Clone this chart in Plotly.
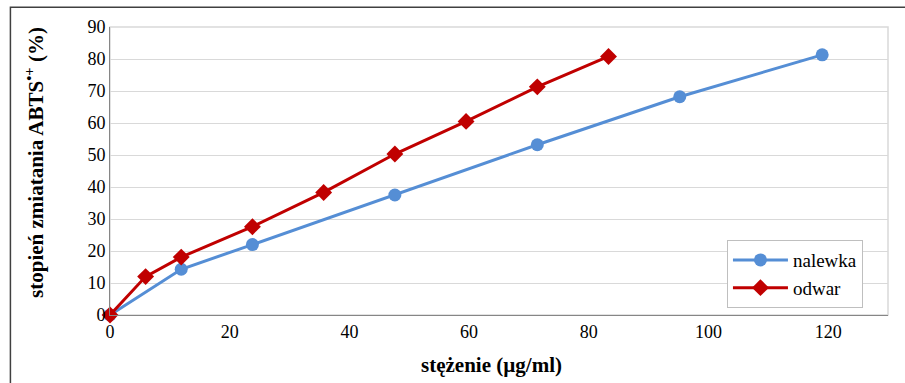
import plotly.graph_objects as go

# Concentration (µg/ml) and ABTS•+ scavenging (%) for each extract
nalewka_x = [0, 11.9, 23.8, 47.6, 71.4, 95.2, 119.0]
nalewka_y = [0, 14.3, 22.0, 37.5, 53.2, 68.2, 81.3]

odwar_x = [0, 5.95, 11.9, 23.8, 35.7, 47.6, 59.5, 71.4, 83.3]
odwar_y = [0, 12.0, 18.1, 27.6, 38.3, 50.3, 60.5, 71.3, 80.8]

x_ticks = [0, 20, 40, 60, 80, 100, 120]
y_ticks = [0, 10, 20, 30, 40, 50, 60, 70, 80, 90]

SERIF = "Times New Roman"

fig = go.Figure()
fig.add_trace(go.Scatter(
    x=nalewka_x, y=nalewka_y, name="nalewka", mode="lines+markers",
    line=dict(color="#558ED5", width=3),
    marker=dict(symbol="circle", size=13, color="#558ED5"),
    cliponaxis=False,
))
fig.add_trace(go.Scatter(
    x=odwar_x, y=odwar_y, name="odwar", mode="lines+markers",
    line=dict(color="#C00000", width=3),
    marker=dict(symbol="diamond", size=13, color="#C00000"),
    cliponaxis=False,
))

fig.update_layout(
    width=905, height=383,
    margin=dict(l=110, r=17, t=27, b=68),
    paper_bgcolor="white", plot_bgcolor="white",
    font=dict(family=SERIF, size=18, color="black"),
    showlegend=True,
    legend=dict(
        x=0.793, y=0.024, xanchor="left", yanchor="bottom",
        bgcolor="white", bordercolor="#BFBFBF", borderwidth=1,
        font=dict(family=SERIF, size=19, color="black"),
        itemwidth=55, tracegroupgap=0,
    ),
    xaxis=dict(
        range=[0, 130], tickvals=x_ticks, showgrid=False, zeroline=False,
        showline=True, linecolor="#868686", linewidth=1, ticks="",
        tickfont=dict(family=SERIF, size=18), mirror=False,
    ),
    yaxis=dict(
        range=[0, 90], tickvals=y_ticks, showgrid=True, gridcolor="#D9D9D9",
        gridwidth=1, zeroline=False, showline=True, linecolor="#868686",
        linewidth=1, ticks="", tickfont=dict(family=SERIF, size=18),
    ),
    annotations=[
        dict(text="<b>stężenie (µg/ml)</b>", xref="paper", yref="paper",
             x=0.49, y=-0.175, xanchor="center", yanchor="middle",
             showarrow=False, font=dict(family=SERIF, size=21)),
        dict(text="<b>stopień zmiatania ABTS<sup>•+</sup> (%)</b>",
             xref="paper", yref="paper", x=-0.097, y=0.53,
             xanchor="center", yanchor="middle", textangle=-90,
             showarrow=False, font=dict(family=SERIF, size=21)),
    ],
    shapes=[
        # light frame around the plotting area
        dict(type="rect", xref="paper", yref="paper", x0=0, x1=1, y0=0, y1=1,
             line=dict(color="#D9D9D9", width=1.5), layer="below"),
        # outer chart border
        dict(type="rect", xref="paper", yref="paper",
             x0=-0.128, x1=1.2, y0=-0.5, y1=1.069,
             line=dict(color="#404040", width=1.5), layer="below"),
    ],
)

fig.write_html("out.html")
